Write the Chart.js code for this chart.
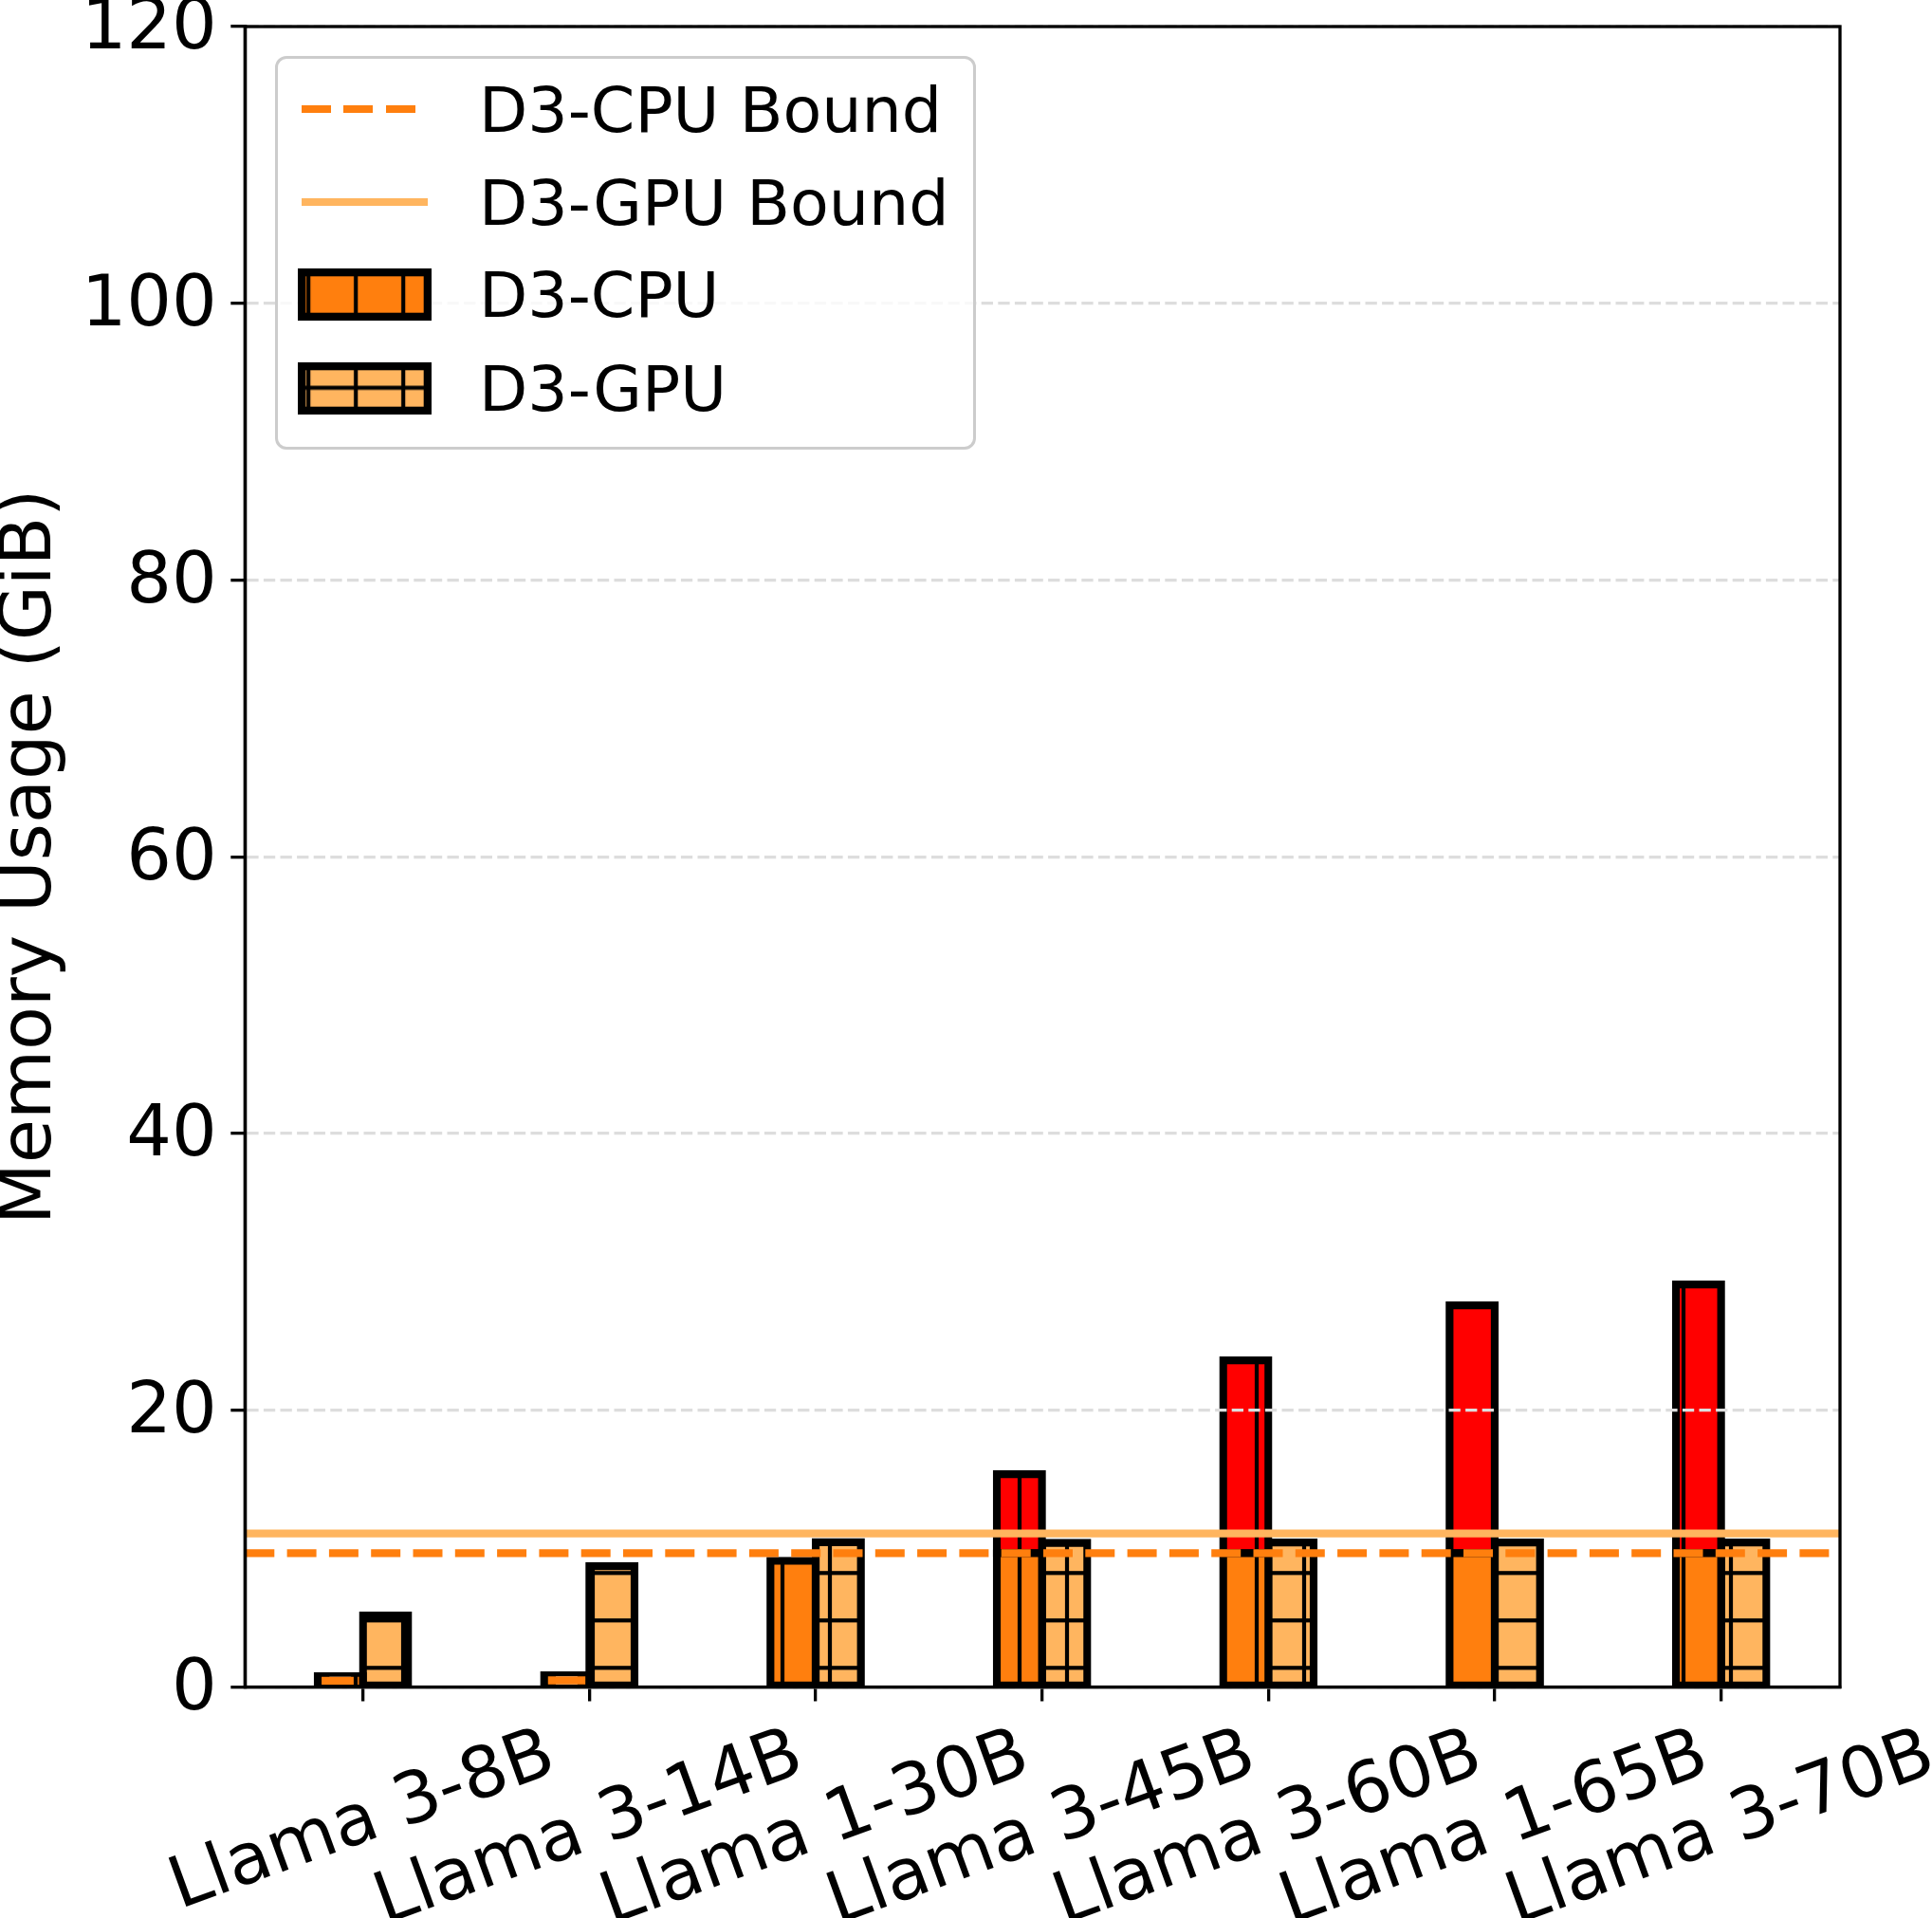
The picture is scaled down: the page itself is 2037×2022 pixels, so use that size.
<!DOCTYPE html>
<html>
<head>
<meta charset="utf-8">
<script src="https://cdn.jsdelivr.net/npm/chart.js@4.4.1/dist/chart.umd.min.js"></script>
<style>
    html, body { margin: 0; padding: 0; background: #fff; overflow: hidden; }
    #wrap { position: relative; width: 2037px; height: 2022px; font-family: "DejaVu Sans", sans-serif; }
    #chart { position: absolute; left: 0; top: 0; }
    #legendBox {
        position: absolute; left: 290px; top: 58.5px; width: 739px; height: 415px;
        box-sizing: border-box; border: 3.3px solid #cccccc; border-radius: 12px;
        background: rgba(255, 255, 255, 0.8);
    }
    .legText { position: absolute; font-size: 66.7px; line-height: 66.7px; white-space: nowrap; color: #000; }
    .legLine { position: absolute; height: 8.3px; }
    .legPatch { position: absolute; }
</style>
</head>
<body>
<div id="wrap">
    <canvas id="chart" width="2037" height="2022"></canvas>
    <div id="legendBox"></div>
</div>
<script>
// categories and values
const categories = ["Llama 3-8B", "Llama 3-14B", "Llama 1-30B", "Llama 3-45B", "Llama 3-60B", "Llama 1-65B", "Llama 3-70B"];
const cpuMem = [0.80, 0.85, 9.12, 15.38, 23.61, 27.58, 29.09];
const gpuMem = [5.17, 8.74, 10.47, 10.42, 10.45, 10.45, 10.45];
const cpuBound = 9.68;
const gpuBound = 11.09;
const seriesNames = ["D3-CPU Bound", "D3-GPU Bound", "D3-CPU", "D3-GPU"];
const yMin = 0, yMax = 120, yStep = 20;
const xMin = -0.521, xMax = 6.525;

const ORANGE = "#ff7f0e";
const LIGHT = "#ffb55f";
const RED = "#ff0000";
const EDGE = 8.3;
const xLabelAngle = 20;
const xLabelTop = 1818;

// hatch tile, lines fixed to the page grid like matplotlib does
function hatchTile(bg, horiz) {
    const c = document.createElement("canvas");
    c.width = 50; c.height = 50;
    const g = c.getContext("2d");
    g.fillStyle = bg;
    g.fillRect(0, 0, 50, 50);
    g.fillStyle = "#000";
    g.fillRect(22.9, 0, 4.2, 50);
    if (horiz) g.fillRect(0, 6.2, 50, 4.2);
    return c;
}
const tileCpu = hatchTile(ORANGE, false);
const tileRed = hatchTile(RED, false);
const tileGpu = hatchTile(LIGHT, true);

const ctx = document.getElementById("chart").getContext("2d");
const patCpu = ctx.createPattern(tileCpu, "repeat");
const patRed = ctx.createPattern(tileRed, "repeat");
const patGpu = ctx.createPattern(tileGpu, "repeat");

const xy = (vals) => vals.map((v, i) => ({ x: i, y: v }));
const cpuLow = cpuMem.map(v => Math.min(v, cpuBound));
const cpuHigh = cpuMem.map(v => v > cpuBound ? v - cpuBound : null);

const barCommon = {
    type: "bar",
    borderColor: "#000",
    borderWidth: EDGE,
    borderSkipped: false,
    inflateAmount: EDGE / 2,
    order: 1,
    clip: 0
};

const xLabelPlugin = {
    id: "xLabels",
    afterDraw(chart) {
        const c = chart.ctx;
        const sx = chart.scales.x;
        const th = xLabelAngle * Math.PI / 180;
        c.save();
        c.font = '75px "DejaVu Sans"';
        c.fillStyle = "#000";
        c.textAlign = "center";
        c.textBaseline = "middle";
        categories.forEach((lab, i) => {
            const px = sx.getPixelForValue(i);
            const w = c.measureText(lab).width;
            const cy = xLabelTop + (w / 2) * Math.sin(th) + 32.7 * Math.cos(th);
            c.save();
            c.translate(px, cy);
            c.rotate(-th);
            c.fillText(lab, 0, 0);
            c.restore();
        });
        c.restore();
    }
};

const framePlugin = {
    id: "frame",
    afterDraw(chart) {
        const a = chart.chartArea;
        const c = chart.ctx;
        c.save();
        c.strokeStyle = "#000";
        c.lineWidth = 3.3;
        c.strokeRect(a.left, a.top, a.right - a.left, a.bottom - a.top);
        c.restore();
    }
};

new Chart(ctx, {
    type: "bar",
    data: {
        datasets: [
            {
                type: "line", label: seriesNames[0], stack: "cpuBound",
                data: [{ x: xMin, y: cpuBound }, { x: xMax, y: cpuBound }],
                borderColor: ORANGE, borderWidth: EDGE, borderDash: [31, 13.3], borderCapStyle: "butt",
                pointRadius: 0, fill: false, order: 0, clip: 0
            },
            {
                type: "line", label: seriesNames[1], stack: "gpuBound",
                data: [{ x: xMin, y: gpuBound }, { x: xMax, y: gpuBound }],
                borderColor: LIGHT, borderWidth: EDGE, borderCapStyle: "butt",
                pointRadius: 0, fill: false, order: 0, clip: 0
            },
            Object.assign({}, barCommon, { label: seriesNames[2], data: xy(cpuLow), stack: "cpu", backgroundColor: patCpu }),
            Object.assign({}, barCommon, { label: seriesNames[2] + " over", data: xy(cpuHigh), stack: "cpu", backgroundColor: patRed }),
            Object.assign({}, barCommon, { label: seriesNames[3], data: xy(gpuMem), stack: "gpu", backgroundColor: patGpu })
        ]
    },
    options: {
        responsive: false,
        animation: false,
        devicePixelRatio: 1,
        layout: { padding: { left: 0, top: 28, right: 97, bottom: 0 } },
        datasets: { bar: { categoryPercentage: 0.4, barPercentage: 1.0 } },
        plugins: { legend: { display: false }, tooltip: { enabled: false } },
        scales: {
            x: {
                type: "linear", min: xMin, max: xMax, offset: false,
                ticks: { display: false, stepSize: 1, includeBounds: false },
                grid: {
                    display: true, offset: false, drawOnChartArea: false, drawTicks: true,
                    tickLength: 15, color: "#000", lineWidth: 3.3, tickBorderDash: []
                },
                border: { display: true, color: "#000", width: 3.3 },
                afterFit: (s) => { s.height = 2022 - 1778.5; s.paddingLeft = 0; s.paddingRight = 0; }
            },
            y: {
                min: yMin, max: yMax, stacked: true,
                ticks: {
                    stepSize: yStep, color: "#000", padding: 14.5, labelOffset: 4,
                    font: { family: "DejaVu Sans", size: 75 }
                },
                grid: {
                    z: 1, color: "#dddddd", lineWidth: 3.3, drawTicks: true, tickLength: 15,
                    tickColor: "#000", tickWidth: 3.3, tickBorderDash: []
                },
                border: { display: true, color: "#000", width: 3.3, dash: [12.3, 5.3], z: 1 },
                title: {
                    display: true, text: "Memory Usage (GiB)", color: "#000",
                    font: { family: "DejaVu Sans", size: 75, lineHeight: 0.9 },
                    padding: 0
                },
                afterFit: (s) => { s.width = 258.3; s.paddingTop = 0; s.paddingBottom = 0; }
            }
        }
    },
    plugins: [xLabelPlugin, framePlugin]
});

// legend, built as html over the canvas
const wrap = document.getElementById("wrap");
const rowY = [115, 213, 310.5, 409];
const handleLeft = 318, handleWidth = 133;

function addText(txt, y) {
    const d = document.createElement("div");
    d.className = "legText";
    d.textContent = txt;
    d.style.left = "505px";
    d.style.top = (y - 32.1) + "px";
    wrap.appendChild(d);
}

function addLine(y, bg) {
    const d = document.createElement("div");
    d.className = "legLine";
    d.style.left = handleLeft + "px";
    d.style.width = handleWidth + "px";
    d.style.top = (y - EDGE / 2) + "px";
    d.style.background = bg;
    wrap.appendChild(d);
}

function addPatch(y, tile) {
    const w = handleWidth + EDGE, h = 46.7 + EDGE;
    const left = handleLeft - EDGE / 2, top = y - h / 2;
    const cv = document.createElement("canvas");
    cv.className = "legPatch";
    cv.width = Math.round(w); cv.height = Math.round(h);
    cv.style.left = left + "px";
    cv.style.top = top + "px";
    const g = cv.getContext("2d");
    g.fillStyle = "#000";
    g.fillRect(0, 0, cv.width, cv.height);
    g.save();
    g.translate(-left, -top);
    g.fillStyle = g.createPattern(tile, "repeat");
    g.fillRect(left + EDGE, top + EDGE, cv.width - 2 * EDGE, cv.height - 2 * EDGE);
    g.restore();
    wrap.appendChild(cv);
}

addLine(rowY[0], "repeating-linear-gradient(90deg, " + ORANGE + " 0px, " + ORANGE + " 31px, transparent 31px, transparent 44.3px)");
addLine(rowY[1], LIGHT);
addPatch(rowY[2], tileCpu);
addPatch(rowY[3], tileGpu);
seriesNames.forEach((n, i) => addText(n, rowY[i]));
</script>
</body>
</html>
